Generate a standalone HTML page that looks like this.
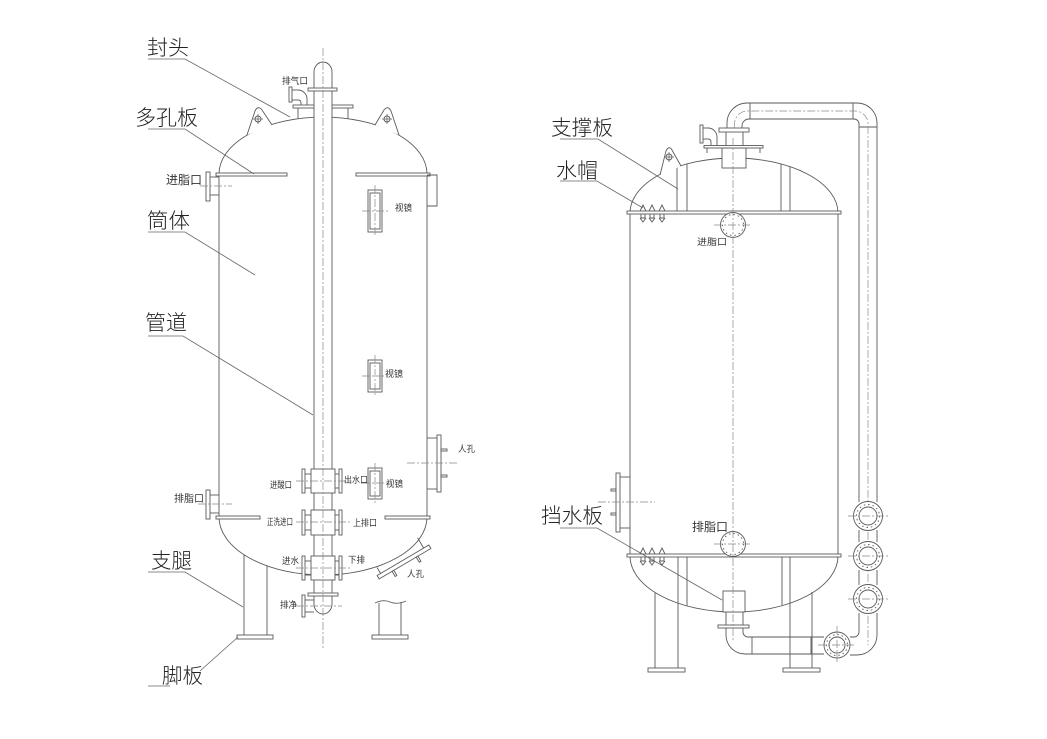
<!DOCTYPE html>
<html><head><meta charset="utf-8">
<style>
html,body{margin:0;padding:0;background:#fff;}
svg{display:block;}
.l{fill:none;stroke:#5a5a5a;stroke-width:0.9}
.w{fill:#fff;stroke:#5a5a5a;stroke-width:0.9}
.ld{fill:none;stroke:#666;stroke-width:0.8}
.c{fill:none;stroke:#888;stroke-width:0.7;stroke-dasharray:8 2 2 2}
.big{font-family:"Liberation Sans","Noto Sans CJK SC",sans-serif;font-size:21px;font-weight:300;fill:#222}
.sm{font-family:"Liberation Sans","Noto Sans CJK SC",sans-serif;font-size:9px;fill:#333}
</style></head><body>
<svg width="1047" height="739" viewBox="0 0 1047 739" xmlns="http://www.w3.org/2000/svg">
<rect width="1047" height="739" fill="#fff"/>

<!-- ================= LEFT TANK ================= -->
<g>
<line x1="219" y1="174" x2="219" y2="517" class="l"/>
<line x1="427" y1="174" x2="427" y2="517" class="l"/>
<path d="M219,174 A104,57 0 0 1 427,174" class="l"/>
<path d="M219,517 A104,58 0 0 0 427,517" class="l"/>
<rect x="216" y="173" width="71" height="3" class="w"/>
<rect x="356" y="173" width="74" height="3" class="w"/>
<rect x="216" y="516" width="44" height="3" class="w"/>
<rect x="385" y="516" width="45" height="3" class="w"/>
<path d="M247,135 L255,111 Q258,105 262,110 L272,125" class="w"/>
<circle cx="258" cy="119" r="3" class="l"/>
<line x1="253" y1="119" x2="263" y2="119" class="ld"/><line x1="258" y1="114" x2="258" y2="124" class="ld"/>
<path d="M375,125 L384,110 Q388,105 391,111 L399,135" class="w"/>
<circle cx="387" cy="119" r="3" class="l"/>
<line x1="382" y1="119" x2="392" y2="119" class="ld"/><line x1="387" y1="114" x2="387" y2="124" class="ld"/>
<line x1="298" y1="108" x2="298" y2="119" class="l"/>
<line x1="348" y1="108" x2="348" y2="119" class="l"/>
<rect x="293" y="105" width="60" height="3" class="w"/>
<rect x="289" y="87" width="3" height="15" class="w"/>
<line x1="292" y1="90" x2="298" y2="90" class="l"/>
<line x1="292" y1="100" x2="298" y2="100" class="l"/>
<path d="M298,90 A9,9 0 0 1 307,99 L307,105" class="l"/>
<path d="M298,100 Q301,100 301,103 L301,105" class="l"/>
<rect x="314" y="72" width="18" height="525" fill="#fff" stroke="none"/>
<line x1="314" y1="72" x2="314" y2="604" class="l"/>
<line x1="332" y1="72" x2="332" y2="604" class="l"/>
<path d="M314,72 A9,10 0 0 1 332,72" class="l"/>
<rect x="308" y="88" width="29" height="3" class="w"/>
<g>
<rect x="311" y="469" width="24" height="24" class="w"/>
<rect x="302" y="469" width="3" height="24" class="w"/>
<line x1="305" y1="474" x2="311" y2="474" class="l"/><line x1="305" y1="488" x2="311" y2="488" class="l"/>
<rect x="339" y="469" width="3" height="24" class="w"/>
<line x1="335" y1="474" x2="339" y2="474" class="l"/><line x1="335" y1="488" x2="339" y2="488" class="l"/>
<line x1="296" y1="481" x2="350" y2="481" class="c"/>
</g>
<g>
<rect x="311" y="510" width="24" height="25" class="w"/>
<rect x="302" y="510" width="3" height="25" class="w"/>
<line x1="305" y1="515" x2="311" y2="515" class="l"/><line x1="305" y1="530" x2="311" y2="530" class="l"/>
<rect x="339" y="510" width="3" height="25" class="w"/>
<line x1="335" y1="515" x2="339" y2="515" class="l"/><line x1="335" y1="530" x2="339" y2="530" class="l"/>
<line x1="296" y1="522" x2="350" y2="522" class="c"/>
</g>
<g>
<rect x="311" y="556" width="24" height="24" class="w"/>
<rect x="302" y="556" width="3" height="24" class="w"/>
<line x1="305" y1="561" x2="311" y2="561" class="l"/><line x1="305" y1="575" x2="311" y2="575" class="l"/>
<rect x="339" y="556" width="3" height="24" class="w"/>
<line x1="335" y1="561" x2="339" y2="561" class="l"/><line x1="335" y1="575" x2="339" y2="575" class="l"/>
<line x1="296" y1="568" x2="350" y2="568" class="c"/>
</g>
<rect x="308" y="593" width="30" height="3" class="w"/>
<path d="M314,604 A9,10 0 0 0 332,604" class="l"/>
<line x1="305" y1="600" x2="314" y2="600" class="l"/>
<line x1="305" y1="612" x2="314" y2="612" class="l"/>
<rect x="302" y="595" width="3" height="22" class="w"/>
<line x1="296" y1="606" x2="342" y2="606" class="c"/>
<line x1="323" y1="48" x2="323" y2="650" class="c"/>
<rect x="206" y="172" width="4" height="29" class="w"/>
<line x1="210" y1="177" x2="219" y2="177" class="l"/><line x1="210" y1="195" x2="219" y2="195" class="l"/>
<line x1="200" y1="186" x2="232" y2="186" class="c"/>
<path d="M427,175 L437,175 L437,206 L427,206" class="l"/>
<rect x="206" y="490" width="4" height="29" class="w"/>
<line x1="210" y1="495" x2="219" y2="495" class="l"/><line x1="210" y1="513" x2="219" y2="513" class="l"/>
<line x1="198" y1="504" x2="232" y2="504" class="c"/>
<line x1="427" y1="438" x2="437" y2="438" class="l"/><line x1="427" y1="489" x2="437" y2="489" class="l"/>
<rect x="437" y="435" width="4" height="57" class="w"/>
<rect x="441" y="449" width="6" height="2" class="w"/>
<rect x="441" y="475" width="6" height="2" class="w"/>
<line x1="407" y1="463" x2="457" y2="463" class="c"/>
<g transform="rotate(-30.5 404 562)">
<line x1="378" y1="553" x2="378" y2="560" class="l"/>
<line x1="428" y1="548" x2="428" y2="560" class="l"/>
<rect x="374" y="560" width="60" height="4" class="w"/>
<rect x="389" y="564" width="2" height="6" class="w"/>
<rect x="417" y="564" width="2" height="6" class="w"/>
</g>
<g>
<rect x="368" y="190" width="14" height="42" class="w"/>
<rect x="370" y="193" width="10" height="36" class="l"/>
<line x1="375" y1="185" x2="375" y2="237" class="c"/>
<line x1="362" y1="211" x2="388" y2="211" class="c"/>
</g>
<g>
<rect x="368" y="360" width="14" height="32" class="w"/>
<rect x="370" y="363" width="10" height="26" class="l"/>
<line x1="375" y1="355" x2="375" y2="397" class="c"/>
<line x1="362" y1="376" x2="388" y2="376" class="c"/>
</g>
<g>
<rect x="368" y="468" width="14" height="31" class="w"/>
<rect x="370" y="471" width="10" height="25" class="l"/>
<line x1="375" y1="463" x2="375" y2="504" class="c"/>
<line x1="362" y1="483" x2="388" y2="483" class="c"/>
</g>
<line x1="244" y1="555" x2="244" y2="636" class="l"/>
<line x1="267" y1="566" x2="267" y2="636" class="l"/>
<rect x="237" y="635" width="36" height="4" class="w"/>
<line x1="379" y1="603" x2="379" y2="636" class="l"/>
<line x1="401" y1="602" x2="401" y2="636" class="l"/>
<path d="M375,603 Q383,599 390,602 T406,601" class="l"/>
<rect x="372" y="635" width="36" height="4" class="w"/>
</g>

<!-- ================= RIGHT TANK ================= -->
<g>
<line x1="630" y1="213" x2="630" y2="556" class="l"/>
<line x1="838" y1="213" x2="838" y2="556" class="l"/>
<path d="M630,213 A104,55 0 0 1 838,213" class="l"/>
<path d="M630,556 A104,56 0 0 0 838,556" class="l"/>
<line x1="677" y1="167" x2="677" y2="212" class="l"/>
<line x1="687" y1="164" x2="687" y2="212" class="l"/>
<line x1="781" y1="164" x2="781" y2="212" class="l"/>
<line x1="790" y1="167" x2="790" y2="212" class="l"/>
<line x1="678" y1="557" x2="678" y2="670" class="l"/>
<line x1="687" y1="557" x2="687" y2="606" class="l"/>
<line x1="655" y1="593" x2="655" y2="670" class="l"/>
<line x1="782" y1="557" x2="782" y2="605" class="l"/>
<line x1="790" y1="557" x2="790" y2="670" class="l"/>
<line x1="812" y1="592" x2="812" y2="670" class="l"/>
<rect x="648" y="668" width="37" height="4" class="w"/>
<rect x="783" y="668" width="37" height="4" class="w"/>
<rect x="627" y="211" width="214" height="3" class="w"/>
<rect x="627" y="554" width="214" height="3" class="w"/>
<g class="l">
<path d="M640,211 L643,205 L646,211 M641,214 L641,218 L645,218 L645,214 M640,218 L643,222 L646,218"/>
<path d="M649,211 L652,205 L655,211 M650,214 L650,218 L654,218 L654,214 M649,218 L652,222 L655,218"/>
<path d="M659,211 L662,205 L665,211 M660,214 L660,218 L664,218 L664,214 M659,218 L662,222 L665,218"/>
<path d="M640,554 L643,548 L646,554 M641,557 L641,561 L645,561 L645,557 M640,561 L643,565 L646,561"/>
<path d="M649,554 L652,548 L655,554 M650,557 L650,561 L654,561 L654,557 M649,561 L652,565 L655,561"/>
<path d="M659,554 L662,548 L665,554 M660,557 L660,561 L664,561 L664,557 M659,561 L662,565 L665,561"/>
</g>
<path d="M660,175 L666,151 Q669,145 672,150 L681,166" class="w"/>
<circle cx="669" cy="157" r="3" class="l"/>
<line x1="664" y1="157" x2="674" y2="157" class="ld"/><line x1="669" y1="152" x2="669" y2="162" class="ld"/>
<rect x="722" y="148" width="24" height="20" class="w"/>
<line x1="707" y1="148" x2="707" y2="153" class="l"/>
<line x1="760" y1="148" x2="760" y2="153" class="l"/>
<rect x="704" y="145.5" width="59" height="2.5" class="w"/>
<line x1="726" y1="132" x2="726" y2="145" class="l"/>
<line x1="743" y1="132" x2="743" y2="145" class="l"/>
<rect x="719" y="128" width="30" height="4" class="w"/>
<rect x="700" y="125" width="3" height="18" class="w"/>
<line x1="703" y1="128" x2="708" y2="128" class="l"/>
<line x1="703" y1="139" x2="708" y2="139" class="l"/>
<path d="M708,128 A9,9 0 0 1 717,137 L717,145" class="l"/>
<path d="M708,139 Q711,139 711,142 L711,145" class="l"/>
<path d="M727,128 L727,123 A20,20 0 0 1 747,103 L857,103 A20,20 0 0 1 877,123 L877,502" class="l"/>
<path d="M742,128 L742,126 A7,7 0 0 1 749,119 L854,119 A5,5 0 0 1 859,124 L859,502" class="l"/>
<line x1="750" y1="103" x2="750" y2="119" class="l"/>
<line x1="853" y1="103" x2="853" y2="119" class="l"/>
<line x1="859" y1="127" x2="877" y2="127" class="l"/>
<path d="M734.5,128 L734.5,124 A13,13 0 0 1 747.5,111 L855,111 A13,13 0 0 1 868,124 L868,645" class="c"/>
<line x1="859" y1="530" x2="859" y2="542" class="l"/><line x1="877" y1="530" x2="877" y2="542" class="l"/>
<line x1="859" y1="570" x2="859" y2="585" class="l"/><line x1="877" y1="570" x2="877" y2="585" class="l"/>
<path d="M877,613 L877,635 A20,20 0 0 1 857,655 L850,655" class="l"/>
<path d="M859,613 L859,632 A5,5 0 0 1 854,637 L850,637" class="l"/>
<path d="M726,628 L726,635 A19,19 0 0 0 745,654 L824,654" class="l"/>
<path d="M743,628 L743,632 A5,5 0 0 0 748,637 L824,637" class="l"/>
<line x1="752" y1="637" x2="752" y2="654" class="l"/>
<line x1="811" y1="637" x2="811" y2="654" class="l"/>
<g class="l">
<circle cx="868" cy="516" r="14.5" fill="#fff"/><circle cx="868" cy="516" r="9"/><circle cx="868" cy="516" r="11.5" stroke-dasharray="1.5 3"/>
<circle cx="868" cy="556" r="14.5" fill="#fff"/><circle cx="868" cy="556" r="9"/><circle cx="868" cy="556" r="11.5" stroke-dasharray="1.5 3"/>
<circle cx="868" cy="599" r="14.5" fill="#fff"/><circle cx="868" cy="599" r="9"/><circle cx="868" cy="599" r="11.5" stroke-dasharray="1.5 3"/>
<circle cx="837" cy="645" r="13" fill="#fff"/><circle cx="837" cy="645" r="8"/><circle cx="837" cy="645" r="10.5" stroke-dasharray="1.5 3"/>
<circle cx="733" cy="225" r="12.5" fill="#fff"/><circle cx="733" cy="225" r="10.5" stroke-dasharray="1.5 3"/>
<circle cx="733" cy="544" r="12.5" fill="#fff"/><circle cx="733" cy="544" r="10.5" stroke-dasharray="1.5 3"/>
</g>
<line x1="848" y1="516" x2="888" y2="516" class="c"/>
<line x1="848" y1="556" x2="888" y2="556" class="c"/>
<line x1="848" y1="599" x2="888" y2="599" class="c"/>
<line x1="818" y1="645" x2="856" y2="645" class="c"/>
<line x1="837" y1="626" x2="837" y2="664" class="c"/>
<line x1="714" y1="225" x2="752" y2="225" class="c"/>
<line x1="714" y1="544" x2="752" y2="544" class="c"/>
<rect x="723" y="591" width="22" height="21" class="w"/>
<line x1="726" y1="612" x2="726" y2="625" class="l"/>
<line x1="743" y1="612" x2="743" y2="625" class="l"/>
<rect x="718" y="625" width="31" height="3" class="w"/>
<line x1="733" y1="138" x2="733" y2="640" class="c"/>
<line x1="620" y1="477" x2="630" y2="477" class="l"/>
<line x1="620" y1="528" x2="630" y2="528" class="l"/>
<rect x="616" y="473" width="4" height="59" class="w"/>
<rect x="611" y="489" width="5" height="2" class="w"/>
<rect x="611" y="513" width="5" height="2" class="w"/>
<line x1="598" y1="502" x2="655" y2="502" class="c"/>
</g>

<!-- ================= LEADERS ================= -->
<g class="ld">
<path d="M148,59 L185,59 L290,117"/>
<path d="M148,129 L185,129 L254,174"/>
<path d="M148,232 L185,232 L255,275"/>
<path d="M148,336 L183,336 L313,415"/>
<path d="M148,572 L185,572 L243,607"/>
<path d="M148,686 L170,686"/>
<path d="M200,671 L238,637"/>
<path d="M560,139 L598,139 L678,189"/>
<path d="M560,181 L597,181 L643,208"/>
<path d="M560,528 L597,528 L722,600"/>
</g>

<!-- ================= LABELS ================= -->
<text x="147" y="55" class="big" textLength="42" lengthAdjust="spacingAndGlyphs">封头</text>
<text x="135" y="125" class="big" textLength="63" lengthAdjust="spacingAndGlyphs">多孔板</text>
<text x="147" y="228" class="big" textLength="43" lengthAdjust="spacingAndGlyphs">筒体</text>
<text x="145" y="330" class="big" textLength="42" lengthAdjust="spacingAndGlyphs">管道</text>
<text x="151" y="568" class="big" textLength="41" lengthAdjust="spacingAndGlyphs">支腿</text>
<text x="162" y="683" class="big" textLength="41" lengthAdjust="spacingAndGlyphs">脚板</text>
<text x="551" y="135" class="big" textLength="62" lengthAdjust="spacingAndGlyphs">支撑板</text>
<text x="556" y="178" class="big" textLength="42" lengthAdjust="spacingAndGlyphs">水帽</text>
<text x="541" y="523" class="big" textLength="62" lengthAdjust="spacingAndGlyphs">挡水板</text>

<text x="282" y="84" class="sm" textLength="26" lengthAdjust="spacingAndGlyphs">排气口</text>
<text x="166" y="184" class="sm" style="font-size:12px" textLength="36" lengthAdjust="spacingAndGlyphs">进脂口</text>
<text x="395" y="211" class="sm" textLength="17" lengthAdjust="spacingAndGlyphs">视镜</text>
<text x="385" y="377" class="sm" textLength="18" lengthAdjust="spacingAndGlyphs">视镜</text>
<text x="458" y="452" class="sm" textLength="17" lengthAdjust="spacingAndGlyphs">人孔</text>
<text x="270" y="488" class="sm" textLength="22" lengthAdjust="spacingAndGlyphs">进酸口</text>
<text x="344" y="483" class="sm" textLength="24" lengthAdjust="spacingAndGlyphs">出水口</text>
<text x="386" y="487" class="sm" textLength="17" lengthAdjust="spacingAndGlyphs">视镜</text>
<text x="174" y="502" class="sm" style="font-size:10px" textLength="30" lengthAdjust="spacingAndGlyphs">排脂口</text>
<text x="267" y="525" class="sm" textLength="26" lengthAdjust="spacingAndGlyphs">正洗进口</text>
<text x="353" y="526" class="sm" textLength="24" lengthAdjust="spacingAndGlyphs">上排口</text>
<text x="282" y="564" class="sm" textLength="17" lengthAdjust="spacingAndGlyphs">进水</text>
<text x="348" y="563" class="sm" textLength="17" lengthAdjust="spacingAndGlyphs">下排</text>
<text x="407" y="577" class="sm" textLength="17" lengthAdjust="spacingAndGlyphs">人孔</text>
<text x="280" y="608" class="sm" textLength="17" lengthAdjust="spacingAndGlyphs">排净</text>
<text x="697" y="245" class="sm" textLength="30" lengthAdjust="spacingAndGlyphs">进脂口</text>
<text x="692" y="531" class="sm" style="font-size:12px" textLength="36" lengthAdjust="spacingAndGlyphs">排脂口</text>
</svg>
</body></html>
